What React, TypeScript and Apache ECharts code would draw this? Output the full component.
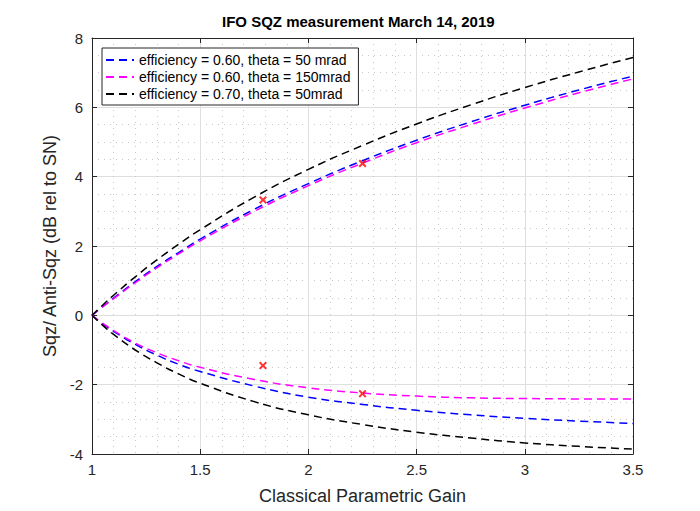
import { useEffect, useRef } from "react";
import * as echarts from "echarts";

// classical parametric gain
const gain = [1, 1.05, 1.1, 1.2, 1.3, 1.4, 1.5, 1.75, 2, 2.25, 2.5, 2.75, 3, 3.25, 3.5];

// anti-squeezing (dB)
const antiBlue = [0, 0.25, 0.5, 0.97, 1.41, 1.81, 2.2, 3.06, 3.8, 4.46, 5.05, 5.58, 6.06, 6.5, 6.9];
const antiMagenta = [0, 0.25, 0.48, 0.94, 1.37, 1.77, 2.15, 3.0, 3.74, 4.39, 4.98, 5.5, 5.98, 6.42, 6.82];
const antiBlack = [0, 0.3, 0.58, 1.11, 1.6, 2.05, 2.47, 3.41, 4.21, 4.9, 5.52, 6.07, 6.57, 7.02, 7.44];

// squeezing (dB)
const sqzBlue = [0, -0.25, -0.46, -0.84, -1.15, -1.41, -1.62, -2.04, -2.36, -2.57, -2.74, -2.87, -2.97, -3.05, -3.12];
const sqzMagenta = [0, -0.23, -0.44, -0.8, -1.08, -1.31, -1.5, -1.85, -2.09, -2.24, -2.33, -2.38, -2.4, -2.41, -2.41];
const sqzBlack = [0, -0.29, -0.55, -1.0, -1.37, -1.69, -1.96, -2.49, -2.87, -3.15, -3.37, -3.54, -3.68, -3.78, -3.86];

// measured points
const measGain = [1.79, 2.25, 1.79, 2.25];
const measDb = [3.33, 4.38, -1.45, -2.26];

const legendNames = [
  "efficiency = 0.60, theta = 50 mrad",
  "efficiency = 0.60, theta = 150mrad",
  "efficiency = 0.70, theta = 50mrad",
];

const FONT = "Liberation Sans, Arial, sans-serif";
const CROSS =
  "path://M0,1.8L1.8,0L5,3.2L8.2,0L10,1.8L6.8,5L10,8.2L8.2,10L5,6.8L1.8,10L0,8.2L3.2,5Z";

const pairs = (ys: number[]) => gain.map((g, i) => [g, ys[i]]);

export default function App() {
  const chartRef = useRef<HTMLDivElement>(null);

  useEffect(() => {
    if (!chartRef.current) return;
    const chart = echarts.init(chartRef.current, undefined, { renderer: "svg" });

    const curve = (name: string, color: string, ys: number[]) => ({
      name,
      type: "line",
      data: pairs(ys),
      smooth: true,
      symbol: "none",
      lineStyle: { color, width: 1.5, type: [8, 5] },
      itemStyle: { color },
      z: 3,
    });

    const majorGrid = { show: true, lineStyle: { color: "#dedede", width: 1 } };
    const minorGrid = { show: true, lineStyle: { color: "#c8c8c8", width: 1, type: [1, 5] } };
    const axisLine = { show: true, onZero: false, lineStyle: { color: "#262626", width: 1 } };
    const tick = { show: true, inside: true, length: 5, lineStyle: { color: "#262626" } };

    chart.setOption({
      animation: false,
      backgroundColor: "#ffffff",
      title: {
        text: "IFO SQZ measurement March 14, 2019",
        left: 217,
        top: 9,
        textStyle: { fontFamily: FONT, fontSize: 15, fontWeight: "bold", color: "#000" },
      },
      legend: {
        data: legendNames,
        orient: "vertical",
        left: 102,
        top: 48,
        padding: [5, 8, 4, 3],
        itemWidth: 28,
        itemHeight: 12,
        itemGap: 3,
        itemStyle: { opacity: 0 },
        backgroundColor: "#ffffff",
        borderColor: "#262626",
        borderWidth: 1,
        borderRadius: 0,
        textStyle: { fontFamily: FONT, fontSize: 14, color: "#000" },
      },
      grid: { left: 92, top: 38, width: 541, height: 416 },
      xAxis: [
        {
          type: "value",
          min: 1,
          max: 3.5,
          interval: 0.5,
          name: "Classical Parametric Gain",
          nameLocation: "middle",
          nameGap: 33,
          nameTextStyle: { fontFamily: FONT, fontSize: 18, color: "#262626" },
          axisLine,
          axisTick: tick,
          axisLabel: { fontFamily: FONT, fontSize: 15, color: "#262626", margin: 8 },
          splitLine: majorGrid,
          minorTick: { show: false, splitNumber: 5 },
          minorSplitLine: minorGrid,
        },
        {
          type: "value",
          position: "top",
          min: 1,
          max: 3.5,
          interval: 0.5,
          axisLine,
          axisTick: tick,
          axisLabel: { show: false },
          splitLine: { show: false },
        },
      ],
      yAxis: [
        {
          type: "value",
          min: -4,
          max: 8,
          interval: 2,
          name: "Sqz/ Anti-Sqz (dB rel to SN)",
          nameLocation: "middle",
          nameGap: 28,
          nameTextStyle: { fontFamily: FONT, fontSize: 18, color: "#262626" },
          axisLine,
          axisTick: tick,
          axisLabel: { fontFamily: FONT, fontSize: 15, color: "#262626", margin: 9 },
          splitLine: majorGrid,
          minorTick: { show: false, splitNumber: 4 },
          minorSplitLine: minorGrid,
        },
        {
          type: "value",
          position: "right",
          min: -4,
          max: 8,
          interval: 2,
          axisLine,
          axisTick: tick,
          axisLabel: { show: false },
          splitLine: { show: false },
        },
      ],
      series: [
        curve(legendNames[0], "#0000ff", antiBlue),
        curve(legendNames[1], "#ff00ff", antiMagenta),
        curve(legendNames[2], "#000000", antiBlack),
        curve(legendNames[0], "#0000ff", sqzBlue),
        curve(legendNames[1], "#ff00ff", sqzMagenta),
        curve(legendNames[2], "#000000", sqzBlack),
        {
          name: "measurement",
          type: "scatter",
          data: measGain.map((g, i) => [g, measDb[i]]),
          symbol: CROSS,
          symbolSize: 8,
          itemStyle: { color: "#ff0000" },
          z: 5,
        },
      ],
    });

    return () => chart.dispose();
  }, []);

  return (
    <div
      ref={chartRef}
      style={{ position: "fixed", left: 0, top: 0, width: 700, height: 511 }}
    />
  );
}
